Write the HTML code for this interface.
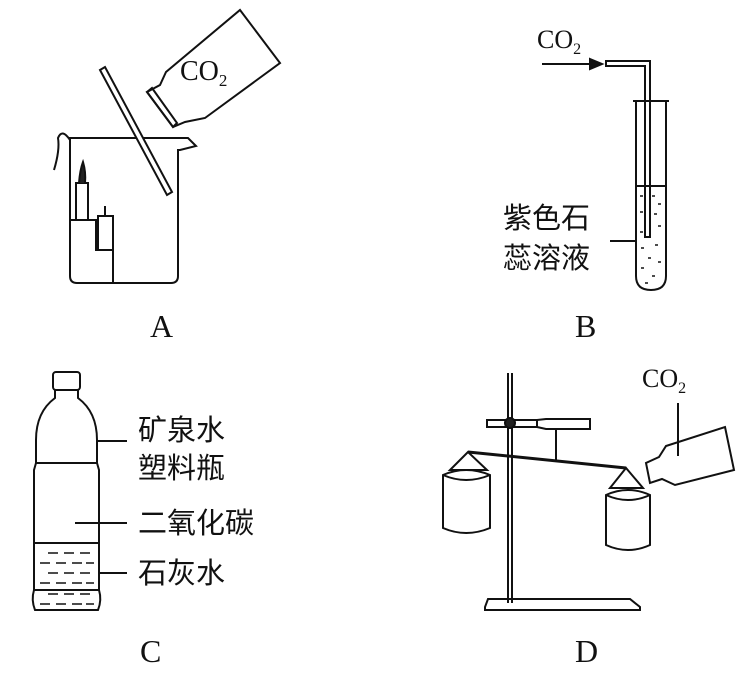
<!DOCTYPE html>
<html><head><meta charset="utf-8"><style>
body{margin:0;background:#fff}
svg{display:block}
.t{font-family:"Liberation Serif",serif;fill:#111}
.c{font-family:"Liberation Sans","Noto Sans CJK SC",sans-serif;fill:#111;font-size:29px}
</style></head><body>
<svg width="752" height="674" viewBox="0 0 752 674" xmlns="http://www.w3.org/2000/svg" fill="none" stroke="#111" stroke-width="2">
<!-- A -->
<path d="M70 138 L188 138 L196 146 L180 150 L178 150 L178 276 Q178 283 171 283 L77 283 Q70 283 70 276 Z"/>
<path d="M70 140 Q62 128 58 138 Q60 150 54 170"/>
<rect x="76" y="183" width="12" height="37"/>
<path d="M79 183 Q80 170 83 162 Q86 172 85 183" fill="#222"/>
<rect x="98" y="216" width="15" height="34"/>
<path d="M105 216 L105 206"/>
<path d="M70 220 L96 220 L96 250 L113 250 L113 283"/>
<path d="M100 70 L105 67 L172 192 L167 195 Z" fill="#fff"/>
<path d="M240 10 L280 63 L205 118 L185 122 L173 127 L147 92 L160 85 L166 72 Z" fill="#fff"/>
<path d="M147 92 L152 88 L177 123 L173 127 Z"/>
<text class="t" x="180" y="80" font-size="28" stroke="none">CO<tspan font-size="17" dy="6">2</tspan></text>
<text class="t" x="150" y="337" font-size="32" stroke="none">A</text>
<!-- B -->
<text class="t" x="537" y="48" font-size="26" stroke="none">CO<tspan font-size="16" dy="6">2</tspan></text>
<path d="M542 64 L592 64"/>
<path d="M590 59 L602 64 L590 69 Z" fill="#111"/>
<path d="M606 61 L650 61 L650 237 L645 237 L645 66 L606 66 Z"/>
<path d="M633 101 L669 101 M636 101 L636 276 Q636 290 651 290 Q666 290 666 276 L666 101"/>
<path d="M636 186 L666 186"/>
<g stroke-width="1.5">
<path d="M640 196h3M652 196h3M658 204h3M640 212h3M654 214h3M658 226h3M640 232h3M655 245h3M641 248h3M648 258h3M658 262h3M641 268h3M652 276h3M645 283h3"/>
</g>
<path d="M610 241 L636 241"/>
<text class="c" x="503" y="228" stroke="none">紫色石</text>
<text class="c" x="503" y="268" stroke="none">蕊溶液</text>
<text class="t" x="575" y="337" font-size="32" stroke="none">B</text>
<!-- C -->
<rect x="53" y="372" width="27" height="18" rx="3"/>
<path d="M55 390 L55 398 Q36 412 36 440 L36 463 L97 463 L97 440 Q97 412 78 398 L78 390"/>
<path d="M36 463 L34 470 L34 590 L99 590 L99 470 L97 463"/>
<path d="M34 590 Q31 600 35 610 L98 610 Q102 600 99 590"/>
<path d="M34 543 L99 543"/>
<g stroke-width="1.5">
<path d="M48 553h10M64 553h10M80 553h10M40 563h10M56 563h10M72 563h10M86 563h8M48 573h10M64 573h10M80 573h10M40 583h10M56 583h10M72 583h10M86 583h8M48 594h10M64 594h10M80 594h10M40 604h10M56 604h10M72 604h10M86 604h8"/>
</g>
<path d="M97 441 L127 441 M75 523 L127 523 M100 573 L127 573"/>
<text class="c" x="138" y="440" stroke="none">矿泉水</text>
<text class="c" x="138" y="478" stroke="none">塑料瓶</text>
<text class="c" x="138" y="533" stroke="none">二氧化碳</text>
<text class="c" x="138" y="583" stroke="none">石灰水</text>
<text class="t" x="140" y="662" font-size="32" stroke="none">C</text>
<!-- D -->
<path d="M508 373 L508 603 M512 373 L512 603"/>
<path d="M488 599 L630 599 L640 607 L640 610 L485 610 L485 607 Z"/>
<rect x="487" y="420" width="50" height="7"/>
<path d="M537 420 L546 419 L590 419 L590 429 L546 429 L537 427"/>
<circle cx="510" cy="423" r="5" fill="#222"/>
<path d="M556 429 L556 460"/>
<path d="M468 452 L626 468" stroke-width="3"/>
<path d="M468 452 L450 470 L487 470 Z"/>
<path d="M443 475 Q466 465 490 475 L490 528 Q466 538 443 528 Z"/>
<path d="M443 475 Q466 485 490 475"/>
<path d="M626 468 L610 488 L643 488 Z"/>
<path d="M606 495 Q628 485 650 495 L650 545 Q628 555 606 545 Z"/>
<path d="M606 495 Q628 505 650 495"/>
<path d="M725 427 L734 470 L675 485 L662 479 L650 483 L646 463 L659 457 L666 446 Z" fill="#fff"/>
<path d="M678 403 L678 456"/>
<text class="t" x="642" y="387" font-size="26" stroke="none">CO<tspan font-size="16" dy="6">2</tspan></text>
<text class="t" x="575" y="662" font-size="32" stroke="none">D</text>
</svg>
</body></html>
